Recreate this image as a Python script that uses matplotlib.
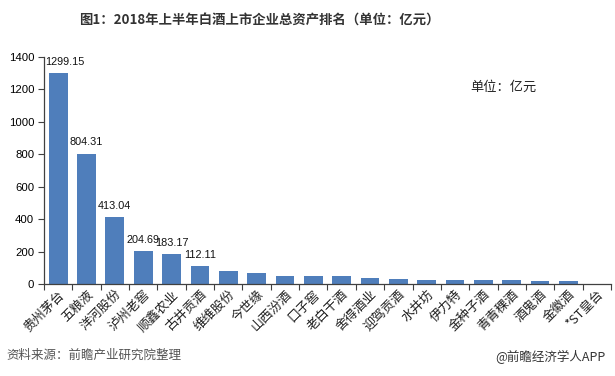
import matplotlib.pyplot as plt
import numpy as np

plt.rcParams['font.family'] = ['Noto Sans CJK SC', 'DejaVu Sans']

# Data (units: 亿元)
companies = ['贵州茅台', '五粮液', '洋河股份', '泸州老窖', '顺鑫农业', '古井贡酒', '维维股份',
             '今世缘', '山西汾酒', '口子窖', '老白干酒', '舍得酒业', '迎驾贡酒', '水井坊',
             '伊力特', '金种子酒', '青青稞酒', '酒鬼酒', '金徽酒', '*ST皇台']
assets = [1299.15, 804.31, 413.04, 204.69, 183.17, 112.11, 80, 67, 49, 49,
          48, 36, 29, 23, 24, 22, 23, 16, 16, 1]
labelled = ['1299.15', '804.31', '413.04', '204.69', '183.17', '112.11']
y_ticks = [0, 200, 400, 600, 800, 1000, 1200, 1400]

fig = plt.figure(figsize=(6.15, 3.76), dpi=100)
ax = fig.add_axes([0.0715, 0.2447, 0.922, 0.6035])

x = np.arange(len(companies))
bars = ax.bar(x, assets, width=0.66, color='#4F7EBB', zorder=2)

# value labels on the top six bars
for i, txt in enumerate(labelled):
    dx = 5 if i == 0 else 0
    ax.annotate(txt, (x[i], assets[i]), xytext=(dx, 4.5), textcoords='offset points',
                ha='center', va='bottom', fontsize=7.8, family='Liberation Sans',
                color='#111111')

ax.set_xlim(-0.5, len(companies) - 0.5)
ax.set_ylim(0, 1400)
ax.set_yticks(y_ticks)
ax.set_yticklabels([str(v) for v in y_ticks], family='Liberation Sans', fontsize=8.2)

# category ticks sit between bars, labels centred under the bars
ax.set_xticks(np.arange(len(companies) + 1) - 0.5)
ax.set_xticklabels([])
ax.set_xticks(x, minor=True)
ax.set_xticklabels(companies, minor=True, rotation=45, ha='right',
                   rotation_mode='anchor', fontsize=9.3, color='#222222')
ax.tick_params(axis='x', which='minor', length=0, pad=3)
ax.tick_params(axis='x', which='major', length=4, direction='out', color='#404040')
ax.tick_params(axis='y', length=4, direction='out', color='#404040', pad=3)

for side in ['top', 'right']:
    ax.spines[side].set_visible(False)
for side in ['left', 'bottom']:
    ax.spines[side].set_color('#404040')
    ax.spines[side].set_linewidth(0.9)

fig.text(0.422, 0.947, '图1：2018年上半年白酒上市企业总资产排名（单位：亿元）',
         ha='center', va='center', fontsize=9.6, fontweight='bold', color='#333333')
fig.text(0.765, 0.768, '单位：亿元', ha='left', va='center', fontsize=9.5, color='#222222')
fig.text(0.011, 0.056, '资料来源：前瞻产业研究院整理', ha='left', va='center',
         fontsize=9, style='italic', color='#555555')
fig.text(0.984, 0.051, '@前瞻经济学人APP', ha='right', va='center',
         fontsize=9, color='#333333')

fig.savefig('out.png', dpi=100)
